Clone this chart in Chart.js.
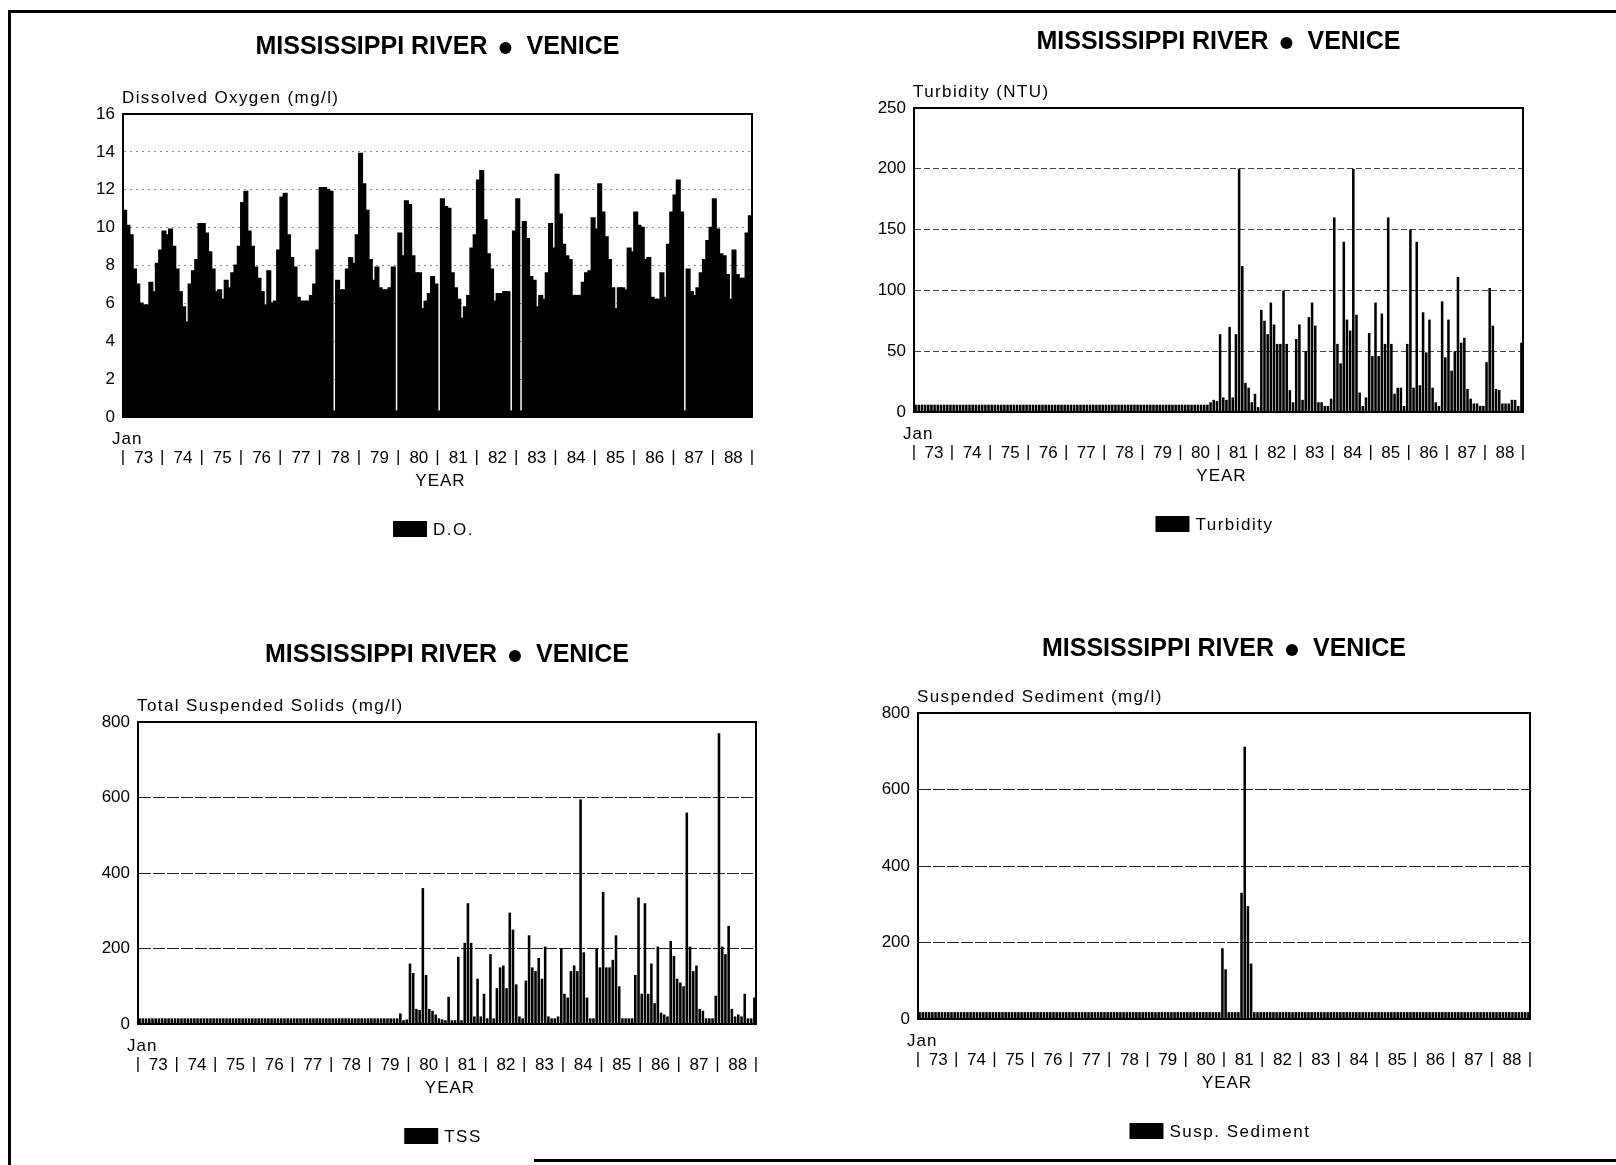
<!DOCTYPE html>
<html>
<head>
<meta charset="utf-8">
<script src="https://cdn.jsdelivr.net/npm/chart.js@4.4.1/dist/chart.umd.min.js"></script>
<style>
  body { margin: 0; background: #fff; width: 1616px; height: 1165px; position: relative; overflow: hidden; }
  .panel { position: absolute; }
  .rule { position: absolute; background: #000; }
</style>
</head>
<body>
<!-- page frame -->
<div class="rule" style="left:8px;top:10px;width:1608px;height:3px"></div>
<div class="rule" style="left:8px;top:10px;width:3px;height:1155px"></div>
<div class="rule" style="left:534px;top:1159px;width:1082px;height:3px"></div>

<div class="panel" style="left:0;top:0"><canvas id="c-do"></canvas></div>
<div class="panel" style="left:808px;top:0"><canvas id="c-turb"></canvas></div>
<div class="panel" style="left:0;top:580px"><canvas id="c-tss"></canvas></div>
<div class="panel" style="left:808px;top:580px"><canvas id="c-sed"></canvas></div>

<script>
const YEARS = ['73','74','75','76','77','78','79','80','81','82','83','84','85','86','87','88'];
const MONTHS = ['Jan','Feb','Mar','Apr','May','Jun','Jul','Aug','Sep','Oct','Nov','Dec'];

// Dissolved oxygen, mg/l, monthly Jan 1973 - Dec 1988
const doValues = [
  10.9, 10.1, 9.6, 7.8, 7.0, 6.0, 5.9, 5.9, 7.1, 6.6, 8.1, 8.8,
  9.8, 9.6, 9.9, 9.0, 7.8, 6.6, 5.8, 5.0, 7.0, 7.7, 8.3, 10.2,
  10.2, 9.7, 8.7, 7.8, 6.6, 6.7, 6.2, 7.2, 6.8, 7.6, 8.0, 9.0,
  11.3, 11.9, 9.8, 9.0, 7.9, 7.3, 6.6, 5.9, 7.7, 6.0, 6.1, 8.8,
  11.6, 11.8, 9.6, 8.4, 7.9, 6.3, 6.1, 6.1, 6.1, 6.4, 7.0, 8.8,
  12.1, 12.1, 12.0, 11.9, 0.3, 7.2, 6.7, 6.7, 7.8, 8.4, 8.1, 9.6,
  13.9, 12.3, 10.9, 8.3, 7.2, 7.9, 6.8, 6.7, 6.7, 6.8, 7.9, 0.3,
  9.7, 8.5, 11.4, 11.2, 8.5, 7.6, 7.6, 5.7, 6.1, 6.5, 7.4, 7.0,
  0.3, 11.5, 11.1, 11.0, 7.6, 6.8, 6.2, 5.2, 5.8, 6.4, 8.9, 9.6,
  12.5, 13.0, 10.4, 8.6, 7.8, 6.1, 6.5, 6.5, 6.6, 6.6, 0.3, 9.8,
  11.5, 0.3, 10.3, 9.4, 7.4, 7.2, 5.8, 6.4, 6.2, 7.6, 10.2, 8.9,
  12.8, 10.7, 9.1, 8.5, 8.3, 6.4, 6.4, 6.4, 7.1, 7.6, 7.7, 10.5,
  9.9, 12.3, 10.8, 9.5, 8.3, 6.8, 5.7, 6.8, 6.8, 6.7, 8.9, 8.7,
  10.8, 10.1, 10.0, 8.3, 8.4, 6.3, 6.2, 6.2, 7.6, 6.3, 9.1, 10.8,
  11.7, 12.5, 10.8, 0.3, 7.8, 6.6, 6.4, 6.8, 7.6, 8.3, 9.3, 10.0,
  11.5, 9.9, 8.6, 8.5, 7.5, 6.2, 8.8, 7.5, 7.3, 7.3, 9.7, 10.6
];

// Turbidity, NTU
const turbidity = [
  6, 6, 6, 6, 6, 6, 6, 6, 6, 6, 6, 6,
  6, 6, 6, 6, 6, 6, 6, 6, 6, 6, 6, 6,
  6, 6, 6, 6, 6, 6, 6, 6, 6, 6, 6, 6,
  6, 6, 6, 6, 6, 6, 6, 6, 6, 6, 6, 6,
  6, 6, 6, 6, 6, 6, 6, 6, 6, 6, 6, 6,
  6, 6, 6, 6, 6, 6, 6, 6, 6, 6, 6, 6,
  6, 6, 6, 6, 6, 6, 6, 6, 6, 6, 6, 6,
  6, 6, 6, 6, 6, 6, 6, 6, 6, 8, 10, 9,
  64, 12, 10, 70, 12, 64, 200, 120, 24, 20, 8, 15,
  4, 84, 75, 64, 90, 72, 56, 56, 100, 56, 18, 8,
  60, 72, 10, 50, 78, 90, 71, 8, 8, 5, 5, 11,
  160, 56, 40, 140, 76, 67, 200, 80, 16, 5, 12, 65,
  46, 90, 46, 81, 56, 160, 56, 15, 20, 20, 5, 56,
  150, 20, 140, 22, 82, 49, 76, 20, 8, 5, 91, 45,
  76, 34, 50, 111, 57, 61, 19, 11, 7, 7, 5, 5,
  41, 102, 71, 19, 18, 7, 7, 7, 10, 10, 5, 57
];

// Total suspended solids, mg/l
const tss = [
  15, 15, 15, 15, 15, 15, 15, 15, 15, 15, 15, 15,
  15, 15, 15, 15, 15, 15, 15, 15, 15, 15, 15, 15,
  15, 15, 15, 15, 15, 15, 15, 15, 15, 15, 15, 15,
  15, 15, 15, 15, 15, 15, 15, 15, 15, 15, 15, 15,
  15, 15, 15, 15, 15, 15, 15, 15, 15, 15, 15, 15,
  15, 15, 15, 15, 15, 15, 15, 15, 15, 15, 15, 15,
  15, 15, 15, 15, 15, 15, 15, 15, 15, 28, 10, 12,
  160, 135, 40, 37, 360, 130, 40, 35, 25, 15, 12, 10,
  72, 10, 10, 178, 10, 215, 320, 215, 20, 120, 20, 80,
  15, 185, 15, 95, 150, 155, 95, 295, 250, 105, 20, 15,
  115, 235, 150, 140, 175, 120, 205, 20, 15, 15, 20, 200,
  80, 70, 140, 155, 140, 595, 190, 70, 15, 15, 200, 150,
  350, 150, 150, 170, 235, 100, 15, 15, 15, 15, 130, 335,
  80, 320, 80, 160, 55, 205, 30, 25, 20, 220, 180, 120,
  110, 100, 560, 205, 140, 155, 40, 35, 15, 15, 15, 75,
  770, 205, 185, 260, 40, 20, 25, 20, 80, 15, 15, 70
];

// Suspended sediment, mg/l
const sediment = [
  18, 18, 18, 18, 18, 18, 18, 18, 18, 18, 18, 18,
  18, 18, 18, 18, 18, 18, 18, 18, 18, 18, 18, 18,
  18, 18, 18, 18, 18, 18, 18, 18, 18, 18, 18, 18,
  18, 18, 18, 18, 18, 18, 18, 18, 18, 18, 18, 18,
  18, 18, 18, 18, 18, 18, 18, 18, 18, 18, 18, 18,
  18, 18, 18, 18, 18, 18, 18, 18, 18, 18, 18, 18,
  18, 18, 18, 18, 18, 18, 18, 18, 18, 18, 18, 18,
  18, 18, 18, 18, 18, 18, 18, 18, 18, 18, 18, 185,
  130, 18, 18, 18, 18, 330, 712, 295, 145, 18, 18, 18,
  18, 18, 18, 18, 18, 18, 18, 18, 18, 18, 18, 18,
  18, 18, 18, 18, 18, 18, 18, 18, 18, 18, 18, 18,
  18, 18, 18, 18, 18, 18, 18, 18, 18, 18, 18, 18,
  18, 18, 18, 18, 18, 18, 18, 18, 18, 18, 18, 18,
  18, 18, 18, 18, 18, 18, 18, 18, 18, 18, 18, 18,
  18, 18, 18, 18, 18, 18, 18, 18, 18, 18, 18, 18,
  18, 18, 18, 18, 18, 18, 18, 18, 18, 18, 18, 18
];

const monthLabels = [];
YEARS.forEach(y => MONTHS.forEach(m => monthLabels.push(m + ' ' + y)));

const FONT = '"Liberation Sans", Arial, sans-serif';

function drawText(ctx, str, x, y, size, opts = {}) {
  ctx.font = (opts.bold ? 'bold ' : '') + size + 'px ' + FONT;
  ctx.letterSpacing = (opts.spacing || 0) + 'px';
  ctx.textAlign = opts.align || 'left';
  ctx.textBaseline = 'middle';
  ctx.fillStyle = '#000';
  ctx.fillText(str, x, y);
  const w = ctx.measureText(str).width;
  ctx.letterSpacing = '0px';
  return w;
}

// titles, unit label, year axis and legend around each plot
const panelText = {
  id: 'panelText',
  afterDraw(chart, args, o) {
    const { ctx, chartArea: a, scales: { x } } = chart;
    const cx = (a.left + a.right) / 2;
    ctx.save();

    ctx.strokeStyle = '#000';
    ctx.lineWidth = 2;
    ctx.strokeRect(a.left, a.top, a.right - a.left, a.bottom - a.top);

    // title: MISSISSIPPI RIVER (dot) VENICE
    ctx.font = 'bold 25px ' + FONT;
    const wl = ctx.measureText('MISSISSIPPI RIVER').width;
    const wr = ctx.measureText('VENICE').width;
    const total = wl + 12 + 12 + 15 + wr;
    const tx = cx - total / 2;
    const ty = a.top - o.titleGap;
    drawText(ctx, 'MISSISSIPPI RIVER', tx, ty, 25, { bold: true });
    ctx.beginPath();
    ctx.arc(tx + wl + 12 + 6, ty + 1, 6, 0, Math.PI * 2);
    ctx.fillStyle = '#000';
    ctx.fill();
    drawText(ctx, 'VENICE', tx + wl + 39, ty, 25, { bold: true });

    drawText(ctx, o.unit, a.left - 1, a.top - 16, 17, { spacing: 1.4 });

    // year axis
    const step = x.getPixelForValue(1) - x.getPixelForValue(0);
    drawText(ctx, 'Jan', a.left - 11, a.bottom + 22, 17, { spacing: 1 });
    for (let i = 0; i <= YEARS.length; i++) {
      const bx = (i < YEARS.length ? x.getPixelForValue(i * 12) : x.getPixelForValue(191) + step) - step / 2;
      drawText(ctx, '|', bx, a.bottom + 40, 17, { align: 'center' });
      if (i < YEARS.length) {
        drawText(ctx, YEARS[i], bx + step * 6 + 1, a.bottom + 41, 17, { align: 'center' });
      }
    }
    drawText(ctx, 'YEAR', cx + 3, a.bottom + 64, 17, { align: 'center', spacing: 1 });

    // legend
    ctx.font = '17px ' + FONT;
    ctx.letterSpacing = '1.5px';
    const lw = ctx.measureText(o.legend).width;
    ctx.letterSpacing = '0px';
    const gx = cx - 4 - (34 + 6 + lw) / 2;
    ctx.fillStyle = '#000';
    ctx.fillRect(gx, a.bottom + 104, 34, 16);
    drawText(ctx, o.legend, gx + 40, a.bottom + 113, 17, { spacing: 1.5 });

    ctx.restore();
  }
};

const Y_AXIS_W = 60;

function buildPanel(p) {
  const cv = document.getElementById(p.id);
  cv.width = p.w;
  cv.height = p.h;
  return new Chart(cv, {
    type: 'bar',
    data: {
      labels: monthLabels,
      datasets: [{
        label: p.legend,
        data: p.values,
        backgroundColor: '#000',
        borderWidth: 0,
        barPercentage: p.barPct,
        categoryPercentage: 1,
        inflateAmount: p.inflate
      }]
    },
    options: {
      responsive: false,
      animation: false,
      devicePixelRatio: 1,
      layout: {
        padding: { left: p.area[0] - Y_AXIS_W, top: p.area[1], right: p.w - p.area[2], bottom: p.h - p.area[3] }
      },
      plugins: {
        legend: { display: false },
        tooltip: { enabled: false },
        panelText: { unit: p.unit, legend: p.legend, titleGap: p.titleGap }
      },
      scales: {
        x: {
          ticks: { display: false },
          grid: { display: false },
          border: { color: '#000', width: 2 },
          afterFit: s => { s.height = 0; }
        },
        y: {
          min: 0,
          max: p.yMax,
          ticks: { stepSize: p.yStep, color: '#000', padding: 8, font: { family: FONT, size: 17 } },
          grid: { color: p.gridColor, drawTicks: false, lineWidth: 1 },
          border: { color: '#000', width: 2, dash: p.dash },
          afterFit: s => { s.width = Y_AXIS_W; }
        }
      }
    },
    plugins: [panelText]
  });
}

// plot areas are [left, top, right, bottom] in each canvas
buildPanel({ id: 'c-do', w: 808, h: 580, area: [123, 114, 752, 417], values: doValues,
  yMax: 16, yStep: 2, unit: 'Dissolved Oxygen (mg/l)', legend: 'D.O.', titleGap: 67,
  barPct: 1, inflate: 0.9, gridColor: '#8a8a8a', dash: [2, 4] });
buildPanel({ id: 'c-turb', w: 808, h: 580, area: [106, 108, 715, 412], values: turbidity,
  yMax: 250, yStep: 50, unit: 'Turbidity (NTU)', legend: 'Turbidity', titleGap: 66,
  barPct: 0.8, inflate: 'auto', gridColor: '#444', dash: [6, 3] });
buildPanel({ id: 'c-tss', w: 808, h: 585, area: [138, 142, 756, 444], values: tss,
  yMax: 800, yStep: 200, unit: 'Total Suspended Solids (mg/l)', legend: 'TSS', titleGap: 67,
  barPct: 0.8, inflate: 'auto', gridColor: '#222', dash: [12, 2] });
buildPanel({ id: 'c-sed', w: 808, h: 585, area: [110, 133, 722, 439], values: sediment,
  yMax: 800, yStep: 200, unit: 'Suspended Sediment (mg/l)', legend: 'Susp. Sediment', titleGap: 64,
  barPct: 0.8, inflate: 'auto', gridColor: '#222', dash: [12, 2] });
</script>
</body>
</html>
